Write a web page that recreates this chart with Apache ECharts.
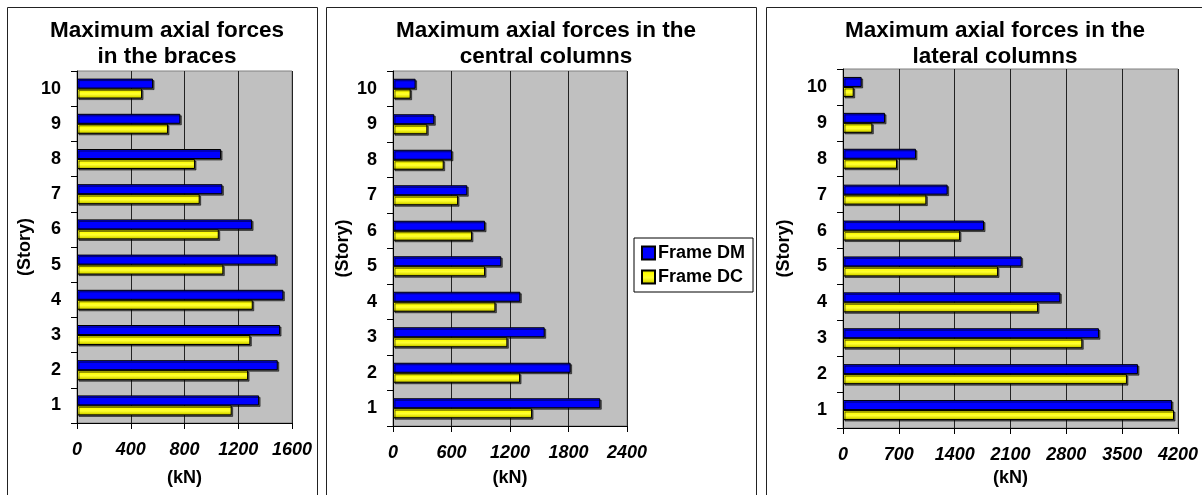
<!DOCTYPE html>
<html>
<head>
<meta charset="utf-8">
<script src="https://cdn.jsdelivr.net/npm/echarts@6/dist/echarts.min.js"></script>
<style>
  html, body { margin: 0; padding: 0; background: #fff; }
  #chart { width: 1202px; height: 495px; }
</style>
</head>
<body>
<div id="chart"></div>
<script>
// Story numbers (bottom to top)
const stories = ['1', '2', '3', '4', '5', '6', '7', '8', '9', '10'];

// Maximum axial forces in the braces (kN)
const bracesDM = [1355, 1494, 1511, 1536, 1484, 1303, 1082, 1072, 769, 566];
const bracesDC = [1151, 1273, 1290, 1308, 1089, 1055, 913, 878, 677, 484];

// Maximum axial forces in the central columns (kN)
const centralDM = [2126, 1822, 1556, 1306, 1111, 944, 762, 605, 424, 232];
const centralDC = [1426, 1303, 1173, 1050, 944, 810, 667, 520, 352, 181];

// Maximum axial forces in the lateral columns (kN)
const lateralDM = [4125, 3698, 3209, 2725, 2240, 1768, 1312, 915, 527, 234];
const lateralDC = [4150, 3560, 3000, 2445, 1943, 1467, 1045, 677, 368, 134];

// Force axis ranges
const axisMax = [1600, 2400, 4200];
const axisStep = [400, 600, 700];

const panelTitles = [
  'Maximum axial forces\nin the braces',
  'Maximum axial forces in the\ncentral columns',
  'Maximum axial forces in the\nlateral columns'
];

const FONT = '"Liberation Sans", Arial, Helvetica, sans-serif';

// Layout of the three panels
const panels = [
  { x0: 7,   x1: 317,  grid: { left: 77,  top: 71, width: 215, height: 352 }, yGap: 43, xGap: 46 },
  { x0: 326, x1: 756,  grid: { left: 393, top: 71, width: 234, height: 355 }, yGap: 41, xGap: 43 },
  { x0: 766, x1: 1214, grid: { left: 843, top: 69, width: 335, height: 359 }, yGap: 50, xGap: 41 }
];

const seriesData = [
  [bracesDM, bracesDC],
  [centralDM, centralDC],
  [lateralDM, lateralDC]
];

const blueStyle = {
  color: '#0000ff',
  borderColor: '#000',
  borderWidth: 1,
  shadowColor: 'rgba(0,0,0,0.55)',
  shadowOffsetX: 1.5,
  shadowOffsetY: 1.5,
  shadowBlur: 0
};
const yellowStyle = {
  color: {
    type: 'linear', x: 0, y: 0, x2: 0, y2: 1,
    colorStops: [
      { offset: 0, color: '#c8c800' },
      { offset: 0.25, color: '#ffff00' },
      { offset: 0.55, color: '#ffff33' },
      { offset: 0.8, color: '#e0e000' },
      { offset: 1, color: '#8c8c00' }
    ]
  },
  borderColor: '#000',
  borderWidth: 1,
  shadowColor: 'rgba(0,0,0,0.55)',
  shadowOffsetX: 1.5,
  shadowOffsetY: 1.5,
  shadowBlur: 0
};

const grids = [], xAxes = [], yAxes = [], series = [], titles = [], graphics = [];

panels.forEach((p, i) => {
  // panel frame
  graphics.push({
    type: 'rect', silent: true, z: -10,
    shape: { x: p.x0 + 0.5, y: 7.5, width: p.x1 - p.x0, height: 520 },
    style: { fill: '#fff', stroke: '#222', lineWidth: 1 }
  });

  titles.push({
    text: panelTitles[i],
    left: (p.x0 + p.x1) / 2,
    top: 13,
    textAlign: 'center',
    textStyle: { fontFamily: FONT, fontWeight: 'bold', fontSize: 22.5, lineHeight: 26, color: '#000' }
  });

  grids.push(Object.assign({
    show: true,
    backgroundColor: '#c0c0c0',
    borderColor: '#808080',
    borderWidth: 1
  }, p.grid));

  xAxes.push({
    type: 'value', gridIndex: i,
    min: 0, max: axisMax[i], interval: axisStep[i],
    name: '(kN)', nameLocation: 'middle', nameGap: p.xGap,
    nameTextStyle: { fontFamily: FONT, fontWeight: 'bold', fontSize: 18, color: '#000' },
    axisLine: { show: true, lineStyle: { color: '#000', width: 1 } },
    axisTick: { show: true, length: 6, lineStyle: { color: '#000' } },
    axisLabel: {
      fontFamily: FONT, fontWeight: 'bold', fontStyle: 'italic', fontSize: 18, color: '#000', margin: 18,
      formatter: v => String(v)
    },
    splitLine: { show: true, lineStyle: { color: '#222', width: 1 } }
  });

  yAxes.push({
    type: 'category', gridIndex: i,
    data: stories,
    name: '(Story)', nameLocation: 'middle', nameGap: p.yGap,
    nameTextStyle: { fontFamily: FONT, fontWeight: 'bold', fontSize: 18, color: '#000' },
    axisLine: { show: true, lineStyle: { color: '#000', width: 1 } },
    axisTick: { show: true, length: 6, lineStyle: { color: '#000' } },
    axisLabel: { fontFamily: FONT, fontWeight: 'bold', fontSize: 18, color: '#000', margin: 16 },
    splitLine: { show: false }
  });

  // DM first: it sits above DC within each story
  series.push({
    name: 'Frame DM', type: 'bar', xAxisIndex: i, yAxisIndex: i,
    data: seriesData[i][0], barWidth: 10, barGap: '0%',
    itemStyle: blueStyle
  });
  series.push({
    name: 'Frame DC', type: 'bar', xAxisIndex: i, yAxisIndex: i,
    data: seriesData[i][1], barWidth: 10, barGap: '0%',
    itemStyle: yellowStyle
  });
});

const chart = echarts.init(document.getElementById('chart'), null, { renderer: 'canvas' });
chart.setOption({
  animation: false,
  backgroundColor: '#fff',
  title: titles,
  graphic: graphics,
  legend: {
    data: ['Frame DM', 'Frame DC'],
    orient: 'vertical',
    left: 634, top: 238,
    width: 123,
    padding: [6, 8, 6, 7],
    itemGap: 6,
    itemWidth: 13, itemHeight: 13,
    icon: 'rect',
    borderColor: '#000', borderWidth: 1,
    backgroundColor: '#fff',
    textStyle: { fontFamily: FONT, fontWeight: 'bold', fontSize: 18, color: '#000', padding: [0, 0, 0, -2] },
    selectedMode: false
  },
  grid: grids,
  xAxis: xAxes,
  yAxis: yAxes,
  series: series
});
</script>
</body>
</html>
